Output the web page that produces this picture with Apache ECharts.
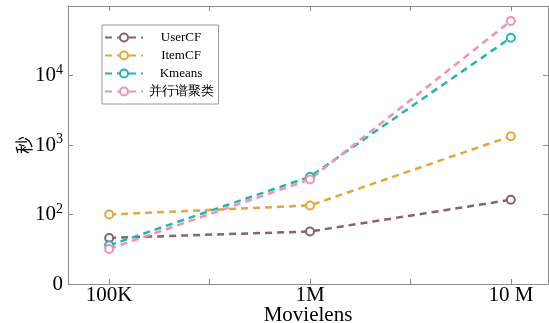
<!DOCTYPE html>
<html>
<head>
<meta charset="utf-8">
<script src="https://cdn.jsdelivr.net/npm/echarts@6/dist/echarts.min.js"></script>
<style>
  html, body { margin: 0; padding: 0; background: #fff; }
  #main { width: 549px; height: 323px; }
</style>
</head>
<body>
<div id="main"></div>
<script>
// dataset sizes on x, running time (s) on a log y axis
var categories = ['100K', '1M', '10 M'];
var xPos = [0, 2, 4];
var userCF = [46, 57, 163];
var itemCF = [100, 135, 1340];
var kmeans = [36, 350, 35000];
var spectral = [32, 320, 61000];
var seriesNames = ['UserCF', 'ItemCF', 'Kmeans', '并行谱聚类'];
var colors = ['#8d6167', '#e8a63a', '#22b5b3', '#f291b8'];

var serif = 'Liberation Serif';

function pairs(vals) {
  var out = [];
  for (var i = 0; i < vals.length; i++) out.push([xPos[i], vals[i]]);
  return out;
}

function mkSeries(name, vals, color) {
  return {
    name: name,
    type: 'line',
    data: pairs(vals),
    symbol: 'emptyCircle',
    symbolSize: 8,
    lineStyle: { color: color, width: 2.5, type: [7, 5] },
    itemStyle: { color: color, borderColor: color, borderWidth: 2 },
    z: 3
  };
}

var chart = echarts.init(document.getElementById('main'));

var axisGray = '#8c8c8c';

var option = {
  animation: false,
  color: colors,
  grid: { left: 68, right: 1, top: 6, bottom: 39, outerBoundsMode: 'none', containLabel: false },
  legend: {
    left: 102, top: 25,
    orient: 'vertical',
    itemWidth: 38, itemHeight: 10, itemGap: 5,
    padding: [6, 5, 6, 2],
    borderColor: '#999', borderWidth: 1,
    backgroundColor: '#fff',
    formatter: function (name) { return '{c|' + name + '}'; },
    textStyle: {
      fontFamily: serif, fontSize: 13, color: '#000',
      rich: { c: { fontFamily: serif, fontSize: 13, color: '#000', width: 66, align: 'center' } }
    },
    data: seriesNames
  },
  xAxis: [{
    type: 'value',
    min: -0.41, max: 4.37,
    axisLine: { onZero: false, lineStyle: { color: axisGray } },
    axisTick: { inside: true, length: 5, lineStyle: { color: axisGray }, customValues: [0, 1, 2, 3, 4] },
    axisLabel: {
      customValues: xPos,
      formatter: function (v) { return categories[xPos.indexOf(v)] || ''; },
      fontFamily: serif, fontSize: 21, color: '#000', margin: 1
    },
    splitLine: { show: false },
    name: 'Movielens', nameLocation: 'middle', nameGap: 21, nameMoveOverlap: false,
    nameTextStyle: { fontFamily: serif, fontSize: 21, color: '#000' }
  }, {
    type: 'value', position: 'top',
    min: -0.41, max: 4.37,
    axisLine: { show: true, onZero: false, lineStyle: { color: axisGray } },
    axisTick: { show: true, inside: true, length: 5, lineStyle: { color: axisGray }, customValues: [0, 1, 2, 3, 4] },
    axisLabel: { show: false },
    splitLine: { show: false }
  }],
  yAxis: [{
    type: 'log', logBase: 10,
    min: 10, max: 100000,
    axisLine: { show: true, onZero: false, lineStyle: { color: axisGray } },
    axisTick: { show: true, inside: true, length: 5, lineStyle: { color: axisGray } },
    axisLabel: {
      margin: 5,
      fontFamily: serif, fontSize: 21, color: '#000',
      formatter: function (v) {
        var e = Math.round(Math.log10(v));
        if (e === 1) return '0';
        if (e >= 5) return '';
        return '{b|10}{s|' + e + '}';
      },
      rich: {
        b: { fontFamily: serif, fontSize: 21, color: '#000' },
        s: { fontFamily: serif, fontSize: 14, color: '#000', verticalAlign: 'top', padding: [0, 0, 11, 0] }
      }
    },
    splitLine: { show: false },
    minorTick: { show: false },
    name: '秒', nameLocation: 'middle', nameGap: 35, nameRotate: 90, nameMoveOverlap: false,
    nameTextStyle: { fontFamily: 'Noto Sans CJK SC', fontSize: 18, color: '#000' }
  }, {
    type: 'log', logBase: 10, position: 'right',
    min: 10, max: 100000,
    axisLine: { show: true, onZero: false, lineStyle: { color: axisGray } },
    axisTick: { show: true, inside: true, length: 5, lineStyle: { color: axisGray } },
    axisLabel: { show: false },
    splitLine: { show: false }
  }],
  series: [
    mkSeries(seriesNames[0], userCF, colors[0]),
    mkSeries(seriesNames[1], itemCF, colors[1]),
    mkSeries(seriesNames[2], kmeans, colors[2]),
    mkSeries(seriesNames[3], spectral, colors[3])
  ]
};

chart.setOption(option);
</script>
</body>
</html>
